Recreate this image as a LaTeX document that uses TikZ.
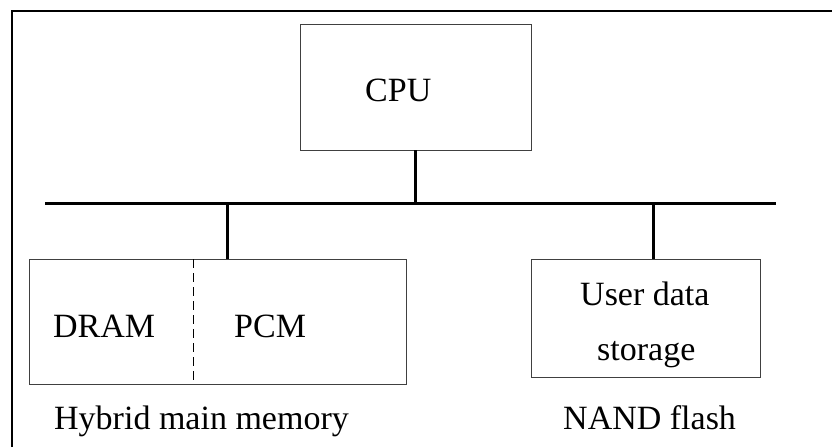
\documentclass[tikz,border=0pt]{standalone}
\usepackage{fontspec}
\setmainfont{Liberation Serif}
\begin{document}
\begin{tikzpicture}[x=1pt,y=-1pt,
		box/.style={draw=black!75,line width=0.9pt,inner sep=0pt},
		lbl/.style={anchor=base west,inner sep=0pt,font=\fontsize{34}{41}\selectfont},
		wire/.style={line width=3pt}]
			\useasboundingbox (0,0) rectangle (832,447);
			% frame
			\draw[line width=2pt] (12,447) -- (12,11) -- (832,11);
			% boxes
			\node[box,minimum width=231pt,minimum height=126pt] (cpu) at (415.5,87) {};
			\node[box,minimum width=377pt,minimum height=125pt] (hybrid) at (217.5,321.5) {};
			\node[box,minimum width=229pt,minimum height=118pt] (nand) at (645.5,318) {};
			\draw[dashed,dash pattern=on 9pt off 5pt,line width=0.9pt] (193,259) -- (193,384);
			% texts
			\node[lbl] (cputxt) at (365,101.5) {CPU};
			\node[lbl] (dram) at (53,337.5) {DRAM};
			\node[lbl] (pcm) at (234,337.5) {PCM};
			\node[lbl] (user) at (580,305) {User data};
			\node[lbl] (stor) at (597,360) {storage};
			\node[lbl] (hybtxt) at (54,429) {Hybrid main memory};
			\node[lbl] (nandtxt) at (563,429) {NAND flash};
			% bus
			\coordinate (busl) at (45,203);
			\coordinate (busr) at (776,203);
			\coordinate (tap1) at (227,203);
			\coordinate (tap2) at (653,203);
			\draw[wire] (busl) -- (busr);
			\draw[wire] (cpu.south) -- (cpu.south |- busl);
			\draw[wire] (tap1) -- (tap1 |- hybrid.north);
			\draw[wire] (tap2) -- (tap2 |- nand.north);
		\end{tikzpicture}
\end{document}
